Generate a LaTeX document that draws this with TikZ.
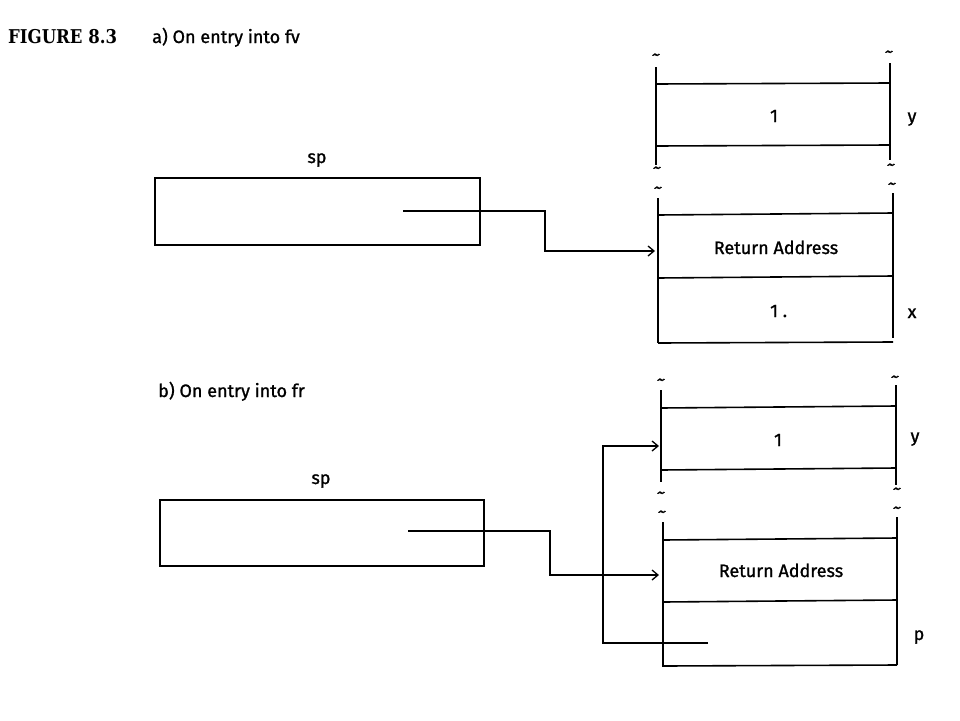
\documentclass[tikz,border=0pt]{standalone}
\usepackage{fontspec}
\setmainfont{Fira Sans}[FakeBold=1.2]
\newfontfamily\figfont{DejaVu Serif Bold}[FakeStretch=0.87]
\usetikzlibrary{arrows.meta}
\tikzset{
  ln/.style={line width=1.6pt, black},
  ptr/.style={line width=1.4pt, -{Straight Barb[length=6pt,width=10pt,line width=1.3pt]}},
  lbl/.style={font=\fontsize{18}{20}\selectfont, inner sep=0pt, anchor=base},
  tl/.style={font=\fontsize{18}{18}\selectfont, inner sep=0pt, text height=5pt, text depth=0pt},
  spbox/.style={draw, line width=1.6pt, inner sep=0pt},
}
\begin{document}
\begin{tikzpicture}[x=1pt,y=-1pt]
\useasboundingbox (0,0) rectangle (960,720);
% titles
\node[anchor=base west, inner sep=0pt, font=\figfont\fontsize{19}{20}\selectfont] (fig) at (8,43) {FIGURE 8.3};
\node[lbl, anchor=base west] (ta) at (152,43) {a) On entry into fv};
\node[lbl, anchor=base west] (tb) at (158,397) {b) On entry into fr};

% ===== panel a =====
\node[spbox, minimum width=325pt, minimum height=67pt] (spa) at (317.5,211.5) {};
\node[lbl] (spalbl) at (317,163) {sp};
\coordinate (spaptr) at (403,211);
\coordinate (aRet) at (655,251);
\draw[ptr] (spaptr) -- (545,211) |- (aRet);

% y block (a)
\draw[ln] (656,67) -- (656,165);
\draw[ln] (890,63) -- (890,160);
\draw[ln] (656,84) -- (890,83);
\draw[ln] (656,146) -- (890,145);
\node[tl] (a1) at (656,58) {\textasciitilde};
\node[tl] (a2) at (889,55) {\textasciitilde};
\node[tl] (a3) at (657,171) {\textasciitilde};
\node[tl] (a4) at (891,168) {\textasciitilde};
\node[lbl] (ay1) at (774,122) {1};
\node[lbl] (aylbl) at (912,122) {y};

% lower block (a)
\node[tl] (a5) at (658,191) {\textasciitilde};
\node[tl] (a6) at (892,187) {\textasciitilde};
\draw[ln] (658,198) -- (658,343);
\draw[ln] (893,193) -- (893,338);
\draw[ln] (658,215) -- (893,213);
\draw[ln] (658,278) -- (893,276);
\draw[ln] (658,343) -- (893,342);
\node[lbl] (aret) at (776,254) {Return Address};
\node[lbl, anchor=base west] (ax1) at (770,317) {1 .};
\node[lbl] (axlbl) at (912,318) {x};

% ===== panel b =====
\node[spbox, minimum width=324pt, minimum height=66pt] (spb) at (322,533) {};
\node[lbl] (spblbl) at (321,484) {sp};
\coordinate (spbptr) at (408,531);
\coordinate (bRet) at (659,575);
\draw[ptr] (spbptr) -- (550,531) |- (bRet);

% y block (b)
\draw[ln] (661,390) -- (661,482);
\draw[ln] (896,385) -- (896,485);
\draw[ln] (661,408) -- (896,406);
\draw[ln] (661,470) -- (896,468);
\node[tl] (b1) at (661,383) {\textasciitilde};
\node[tl] (b2) at (895,380) {\textasciitilde};
\node[tl] (b3) at (661,496) {\textasciitilde};
\node[tl] (b4) at (897,492) {\textasciitilde};
\node[lbl] (by1) at (778,446) {1};
\node[lbl] (bylbl) at (915,442) {y};

% lower block (b)
\node[tl] (b5) at (662,515) {\textasciitilde};
\node[tl] (b6) at (897,511) {\textasciitilde};
\draw[ln] (663,522) -- (663,667);
\draw[ln] (897,517) -- (897,665);
\draw[ln] (663,540) -- (897,538);
\draw[ln] (663,602) -- (897,600);
\draw[ln] (663,666) -- (897,665);
\node[lbl] (bret) at (781,577) {Return Address};
\node[lbl] (bplbl) at (919,640) {p};

% p pointer
\coordinate (pptr) at (708,643);
\coordinate (bY) at (659,446);
\draw[ptr] (pptr) -- (603,643) |- (bY);
\end{tikzpicture}
\end{document}
